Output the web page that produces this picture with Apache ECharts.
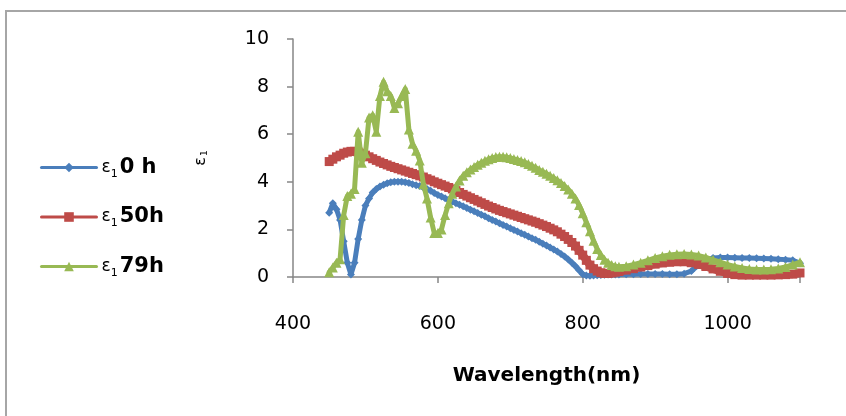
<!DOCTYPE html>
<html>
<head>
<meta charset="utf-8">
<script src="https://cdn.jsdelivr.net/npm/echarts/dist/echarts.min.js"></script>
<style>
html,body{margin:0;padding:0;background:#fff;}
#chart{width:846px;height:416px;}
</style>
</head>
<body>
<div id="chart"></div>
<script>
// Wavelength grid (nm)
const wavelength = [
  450,455,460,465,470,475,480,485,490,495,500,505,510,515,520,525,530,535,540,545,
  550,555,560,565,570,575,580,585,590,595,600,605,610,615,620,625,630,635,640,645,
  650,655,660,665,670,675,680,685,690,695,700,705,710,715,720,725,730,735,740,745,
  750,755,760,765,770,775,780,785,790,795,800,805,810,815,820,825,830,835,840,845,
  850,860,870,880,890,900,910,920,930,940,950,960,970,980,990,1000,1010,1020,1030,1040,
  1050,1060,1070,1080,1090,1100
];
// ε1 at 0 h
const eps0h = [
  2.7,3.1,2.85,2.4,1.5,0.6,0.1,0.6,1.6,2.4,3.0,3.3,3.55,3.7,3.8,3.88,3.94,3.98,4.0,4.0,
  4.0,3.98,3.95,3.9,3.86,3.82,3.76,3.7,3.62,3.53,3.45,3.38,3.31,3.24,3.17,3.1,3.04,2.97,2.9,2.83,
  2.76,2.69,2.62,2.55,2.47,2.4,2.33,2.26,2.19,2.12,2.05,1.98,1.91,1.84,1.77,1.7,1.63,1.56,1.48,1.4,
  1.32,1.24,1.16,1.07,0.97,0.86,0.74,0.6,0.45,0.28,0.12,0.06,0.05,0.06,0.07,0.08,0.09,0.1,0.1,0.11,
  0.11,0.12,0.12,0.13,0.13,0.13,0.13,0.12,0.12,0.14,0.25,0.5,0.72,0.8,0.82,0.82,0.81,0.8,0.8,0.79,
  0.78,0.77,0.75,0.73,0.7,0.58
];
// ε1 at 50 h
const eps50h = [
  4.85,4.95,5.05,5.12,5.2,5.25,5.28,5.28,5.25,5.2,5.12,5.05,4.97,4.9,4.83,4.77,4.71,4.65,4.6,4.55,
  4.5,4.45,4.4,4.35,4.3,4.25,4.2,4.13,4.07,4.0,3.94,3.88,3.82,3.76,3.7,3.63,3.55,3.47,3.4,3.33,
  3.26,3.19,3.12,3.05,2.98,2.92,2.86,2.8,2.75,2.7,2.65,2.6,2.55,2.5,2.45,2.4,2.35,2.3,2.24,2.18,
  2.12,2.05,1.98,1.9,1.8,1.7,1.58,1.45,1.3,1.12,0.92,0.7,0.5,0.35,0.25,0.18,0.15,0.15,0.17,0.2,
  0.23,0.29,0.35,0.42,0.48,0.54,0.59,0.62,0.64,0.64,0.6,0.53,0.44,0.34,0.24,0.15,0.1,0.08,0.08,0.08,
  0.08,0.08,0.09,0.1,0.12,0.17
];
// ε1 at 79 h
const eps79h = [
  0.2,0.4,0.6,0.75,2.6,3.4,3.5,3.7,6.1,4.8,5.2,6.7,6.8,6.1,7.6,8.2,7.8,7.6,7.1,7.3,
  7.6,7.9,6.2,5.6,5.3,4.9,3.9,3.3,2.5,1.85,1.85,2.0,2.6,3.1,3.5,3.8,4.05,4.25,4.4,4.52,
  4.62,4.72,4.8,4.88,4.95,5.0,5.04,5.05,5.05,5.03,5.0,4.96,4.92,4.87,4.82,4.75,4.67,4.59,4.5,4.42,
  4.34,4.25,4.16,4.06,3.95,3.82,3.68,3.5,3.3,3.02,2.68,2.3,1.92,1.52,1.18,0.92,0.73,0.6,0.5,0.45,
  0.43,0.45,0.52,0.6,0.7,0.8,0.87,0.93,0.96,0.97,0.95,0.9,0.82,0.72,0.62,0.52,0.44,0.38,0.34,0.32,
  0.32,0.33,0.36,0.42,0.52,0.62
];
const seriesNames = ['ε10 h', 'ε150h', 'ε179h'];
const legendSuffix = ['0 h', '50h', '79h'];
const xTicks = { min: 400, max: 1100, interval: 200 };
const yTicks = { min: 0, max: 10, interval: 2 };

const colors = ['#4A7EBB', '#BE4B48', '#98B954'];
const symbols = ['diamond', 'rect', 'triangle'];
const symbolSizes = [8, 9, 10];
const lineWidths = [5, 8, 5];
const values = [eps0h, eps50h, eps79h];

const chart = echarts.init(document.getElementById('chart'), null, { renderer: 'canvas' });

const series = values.map((vals, k) => ({
  name: seriesNames[k],
  type: 'line',
  data: wavelength.map((w, i) => [w, vals[i]]),
  symbol: symbols[k],
  symbolSize: symbolSizes[k],
  showAllSymbol: true,
  itemStyle: { color: colors[k] },
  lineStyle: { color: colors[k], width: lineWidths[k], join: 'round', cap: 'round' },
  emphasis: { disabled: true },
  z: 2 + k
}));

chart.setOption({
  animation: false,
  backgroundColor: '#ffffff',
  graphic: [{
    type: 'rect',
    shape: { x: 6, y: 11, width: 900, height: 450 },
    style: { fill: 'none', stroke: '#A6A6A6', lineWidth: 2 },
    silent: true
  }],
  grid: { left: 293, right: 46, top: 39, bottom: 139, containLabel: false },
  legend: {
    orient: 'vertical',
    left: 35,
    top: 152,
    itemWidth: 55,
    itemHeight: 12,
    itemGap: 27,
    selectedMode: false,
    data: seriesNames,
    lineStyle: { width: 3 },
    formatter: function (name) {
      const idx = seriesNames.indexOf(name);
      return '{e|ε}{s|1}{n|' + legendSuffix[idx] + '}';
    },
    textStyle: {
      color: '#000',
      rich: {
        e: { fontFamily: 'DejaVu Sans', fontSize: 17, color: '#000', lineHeight: 24 },
        s: { fontFamily: 'DejaVu Sans', fontSize: 11, color: '#000', lineHeight: 24, verticalAlign: 'bottom', padding: [8, 2, 0, 0] },
        n: { fontFamily: 'DejaVu Sans', fontWeight: 'bold', fontSize: 21, color: '#000', lineHeight: 24 }
      }
    }
  },
  xAxis: {
    type: 'value',
    min: xTicks.min,
    max: xTicks.max,
    interval: xTicks.interval,
    name: 'Wavelength(nm)',
    nameLocation: 'middle',
    nameGap: 89,
    nameTextStyle: { fontFamily: 'DejaVu Sans', fontWeight: 'bold', fontSize: 20, color: '#000' },
    axisLine: { show: true, onZero: true, lineStyle: { color: '#868686', width: 1.5 } },
    axisTick: { show: true, inside: false, length: 6, lineStyle: { color: '#868686', width: 1.5 } },
    axisLabel: {
      fontFamily: 'DejaVu Sans', fontSize: 19, color: '#000', margin: 38,
      formatter: function (v) { return v % 200 === 0 ? String(v) : ''; }
    },
    splitLine: { show: false }
  },
  yAxis: {
    type: 'value',
    min: yTicks.min,
    max: yTicks.max,
    interval: yTicks.interval,
    name: '{e|ε}{s|1}',
    nameLocation: 'middle',
    nameRotate: 90,
    nameGap: 84,
    nameTextStyle: {
      rich: {
        e: { fontFamily: 'DejaVu Sans', fontSize: 16, color: '#000' },
        s: { fontFamily: 'DejaVu Sans', fontSize: 9, color: '#000', verticalAlign: 'bottom', padding: [6, 0, 0, 1] }
      }
    },
    axisLine: { show: true, lineStyle: { color: '#868686', width: 1.5 } },
    axisTick: { show: true, inside: false, length: 6, lineStyle: { color: '#868686', width: 1.5 } },
    axisLabel: { fontFamily: 'DejaVu Sans', fontSize: 19, color: '#000', margin: 24 },
    splitLine: { show: false }
  },
  series: series
});
</script>
</body>
</html>
